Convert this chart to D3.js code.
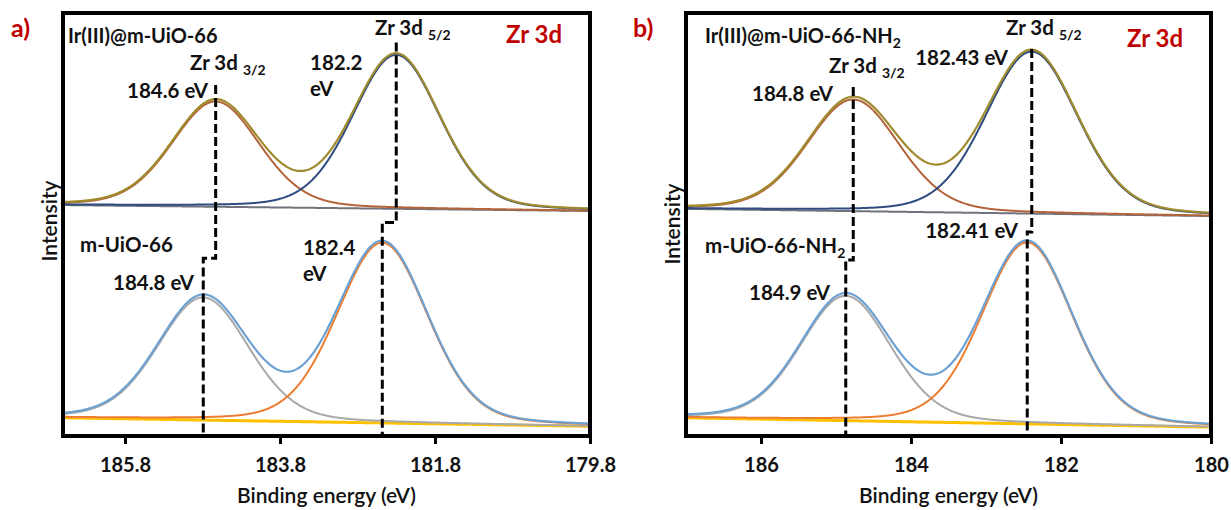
<!DOCTYPE html>
<html>
<head>
<meta charset="utf-8">
<script src="https://cdn.jsdelivr.net/npm/d3@7"></script>
<style>
  html, body { margin: 0; padding: 0; background: #fff; }
  svg { display: block; font-family: Lato, "Open Sans", sans-serif; }
</style>
</head>
<body>
<svg id="chart" width="1231" height="510"></svg>
<script>
// ---------------- DATA ----------------
// x-axis (binding energy, eV)
const energyDomainA = [186.6, 179.8];
const energyDomainB = [187, 180];
const tickValuesA = [185.8, 183.8, 181.8, 179.8];
const tickValuesB = [186, 184, 182, 180];
const tickLabelsA = ["185.8", "183.8", "181.8", "179.8"];
const tickLabelsB = ["186", "184", "182", "180"];

// fitted Zr 3d components: [3d3/2, 3d5/2]  (centre eV, height a.u., FWHM eV)
// panel a, Ir(III)@m-UiO-66
const centersA_top = [184.63, 182.30];
const heightsA_top = [24.9, 36.4];
const fwhmA_top = [1.33, 1.33];
const backgroundA_top = [54.6, 53.2];   // at left / right end of energy axis
// panel a, m-UiO-66
const centersA_bot = [184.79, 182.48];
const heightsA_bot = [29.0, 42.6];
const fwhmA_bot = [1.38, 1.38];
const backgroundA_bot = [4.3, 2.3];
// panel b, Ir(III)@m-UiO-66-NH2
const centersB_top = [184.77, 182.39];
const heightsB_top = [26.4, 38.3];
const fwhmB_top = [1.45, 1.45];
const backgroundB_top = [53.7, 52.0];
// panel b, m-UiO-66-NH2
const centersB_bot = [184.87, 182.45];
const heightsB_bot = [29.5, 42.9];
const fwhmB_bot = [1.42, 1.42];
const backgroundB_bot = [4.3, 2.1];
// Lorentzian fraction of the Gaussian-Lorentzian line shape
const lorentzFraction = 0.2;

// peak value labels
const peakLabelsA_top = ["184.6 eV", "182.2", "eV"];
const peakLabelsA_bot = ["184.8 eV", "182.4", "eV"];
const peakLabelsB_top = ["184.8 eV", "182.43 eV"];
const peakLabelsB_bot = ["184.9 eV", "182.41 eV"];

// ---------------- DRAWING ----------------
const svg = d3.select("#chart");
const intensityDomain = [0, 100];

const colTop = { env: "#A08A2E", c32: "#B4643A", c52: "#2E4C80", bg: "#6F737C" };
const colBot = { env: "#6DA1D2", c32: "#A9A9A9", c52: "#ED7D31", bg: "#FFC000" };

function glPeak(E, c, h, w) {
  const u = (E - c) / w;
  const g = Math.exp(-4 * Math.LN2 * u * u);
  const l = 1 / (1 + 4 * u * u);
  return h * ((1 - lorentzFraction) * g + lorentzFraction * l);
}

function drawSpectrum(g, x, y, dom, centers, heights, fwhm, bgEnds, col, bgWidth) {
  const lo = Math.min(dom[0], dom[1]), hi = Math.max(dom[0], dom[1]);
  const Es = d3.range(lo, hi + 1e-9, 0.01);
  const bg = E => bgEnds[0] + (bgEnds[1] - bgEnds[0]) * (E - dom[0]) / (dom[1] - dom[0]);
  const line = d3.line().x(d => x(d[0])).y(d => y(d[1])).curve(d3.curveLinear);
  const comp = i => Es.map(E => [E, bg(E) + glPeak(E, centers[i], heights[i], fwhm[i])]);
  const env = Es.map(E => [E, bg(E) + glPeak(E, centers[0], heights[0], fwhm[0]) + glPeak(E, centers[1], heights[1], fwhm[1])]);
  g.append("path").attr("d", line(Es.map(E => [E, bg(E)]))).attr("fill", "none")
    .attr("stroke", col.bg).attr("stroke-width", bgWidth);
  g.append("path").attr("d", line(comp(0))).attr("fill", "none").attr("stroke", col.c32).attr("stroke-width", 2);
  g.append("path").attr("d", line(comp(1))).attr("fill", "none").attr("stroke", col.c52).attr("stroke-width", 2);
  g.append("path").attr("d", line(env)).attr("fill", "none").attr("stroke", col.env).attr("stroke-width", 2.2);
}

function txt(g, x, y, s, opts = {}) {
  const t = g.append("text").attr("x", x).attr("y", y)
    .attr("font-size", opts.size || 20.5)
    .attr("font-weight", opts.weight || 700)
    .attr("fill", opts.fill || "#111")
    .attr("text-anchor", opts.anchor || "start");
  if (opts.parts) {
    opts.parts.forEach(p => {
      const ts = t.append("tspan").text(p.t);
      if (p.sub) ts.attr("font-size", p.size || 14).attr("dy", p.dy || 5);
    });
  } else t.text(s);
  return t;
}

function panel(cfg) {
  const x = d3.scaleLinear().domain(cfg.domain).range([cfg.left, cfg.right]);
  const y = d3.scaleLinear().domain(intensityDomain).range([cfg.bottom, cfg.top]);
  const g = svg.append("g");

  drawSpectrum(g, x, y, cfg.domain, cfg.top_.c, cfg.top_.h, cfg.top_.w, cfg.top_.bg, colTop, 2);
  drawSpectrum(g, x, y, cfg.domain, cfg.bot_.c, cfg.bot_.h, cfg.bot_.w, cfg.bot_.bg, colBot, 3);

  // dashed peak-position guides (upper peak -> step -> lower peak -> axis)
  cfg.guides.forEach(gd => {
    const pts = [[gd.eTop, gd.yTop], [gd.eTop, gd.yStep], [gd.eBot, gd.yStep], [gd.eBot, 0]];
    g.append("path").attr("d", d3.line().x(d => x(d[0])).y(d => y(d[1])).curve(d3.curveLinear)(pts))
      .attr("fill", "none").attr("stroke", "#000").attr("stroke-width", 3)
      .attr("stroke-dasharray", "9,4");
  });

  // frame
  g.append("rect").attr("x", cfg.left).attr("y", cfg.top)
    .attr("width", cfg.right - cfg.left).attr("height", cfg.bottom - cfg.top)
    .attr("fill", "none").attr("stroke", "#000").attr("stroke-width", 4);

  // x axis
  const ax = g.append("g").attr("transform", `translate(0,${cfg.bottom})`)
    .call(d3.axisBottom(x).tickValues(cfg.ticks).tickFormat((d, i) => cfg.tickLabels[i])
      .tickSize(8).tickPadding(14));
  ax.select(".domain").remove();
  ax.selectAll(".tick line").attr("stroke", "#000").attr("stroke-width", 3);
  ax.selectAll(".tick text").attr("font-size", 20).attr("font-weight", 700)
    .attr("fill", "#111").attr("font-family", "Lato, sans-serif");

  // axis titles
  txt(g, (cfg.left + cfg.right) / 2, 503, "Binding energy (eV)", { size: 21, weight: 600, anchor: "middle" });
  g.append("text").attr("transform", `translate(${cfg.left - 6},${cfg.ytitle}) rotate(-90)`)
    .attr("text-anchor", "middle").attr("font-size", 21).attr("font-weight", 600)
    .attr("fill", "#111").text("Intensity");
  return g;
}

// ---- panel a ----
const gA = panel({
  domain: energyDomainA, left: 63, right: 590, top: 13, bottom: 436,
  ticks: tickValuesA, tickLabels: tickLabelsA, ytitle: 221,
  top_: { c: centersA_top, h: heightsA_top, w: fwhmA_top, bg: backgroundA_top },
  bot_: { c: centersA_bot, h: heightsA_bot, w: fwhmA_bot, bg: backgroundA_bot },
  guides: [
    { eTop: centersA_top[0], yTop: 83, yStep: 42, eBot: centersA_bot[0] },
    { eTop: centersA_top[1], yTop: 93, yStep: 50.5, eBot: centersA_bot[1] }
  ]
});
txt(gA, 11, 37, "a)", { size: 25, fill: "#C00000" });
txt(gA, 68, 43, "Ir(III)@m-UiO-66", { size: 20 });
txt(gA, 190, 70, "", { parts: [{ t: "Zr 3d " }, { t: "3/2", sub: true }] });
txt(gA, 208, 98, peakLabelsA_top[0], { anchor: "end" });
txt(gA, 375, 35, "", { parts: [{ t: "Zr 3d " }, { t: "5/2", sub: true }] });
txt(gA, 506, 43, "Zr 3d", { size: 24, fill: "#C00000" });
txt(gA, 310, 70, peakLabelsA_top[1]);
txt(gA, 310, 96, peakLabelsA_top[2]);
txt(gA, 80, 252, "m-UiO-66");
txt(gA, 194, 290, peakLabelsA_bot[0], { anchor: "end" });
txt(gA, 303, 255, peakLabelsA_bot[1]);
txt(gA, 303, 281, peakLabelsA_bot[2]);

// ---- panel b ----
const gB = panel({
  domain: energyDomainB, left: 686, right: 1211, top: 13, bottom: 436,
  ticks: tickValuesB, tickLabels: tickLabelsB, ytitle: 224,
  top_: { c: centersB_top, h: heightsB_top, w: fwhmB_top, bg: backgroundB_top },
  bot_: { c: centersB_bot, h: heightsB_bot, w: fwhmB_bot, bg: backgroundB_bot },
  guides: [
    { eTop: centersB_top[0], yTop: 82.5, yStep: 41.6, eBot: centersB_bot[0] },
    { eTop: centersB_top[1], yTop: 91.5, yStep: 48.2, eBot: centersB_bot[1] }
  ]
});
txt(gB, 633, 37, "b)", { size: 25, fill: "#C00000" });
txt(gB, 705, 43, "", { size: 20, parts: [{ t: "Ir(III)@m-UiO-66-NH" }, { t: "2", sub: true }] });
txt(gB, 829, 73, "", { parts: [{ t: "Zr 3d " }, { t: "3/2", sub: true }] });
txt(gB, 833, 101, peakLabelsB_top[0], { anchor: "end" });
txt(gB, 1006, 35, "", { parts: [{ t: "Zr 3d " }, { t: "5/2", sub: true }] });
txt(gB, 1127, 47, "Zr 3d", { size: 24, fill: "#C00000" });
txt(gB, 1008, 65, peakLabelsB_top[1], { anchor: "end" });
txt(gB, 705, 253, "", { parts: [{ t: "m-UiO-66-NH" }, { t: "2", sub: true }] });
txt(gB, 830, 300, peakLabelsB_bot[0], { anchor: "end" });
txt(gB, 1018, 238, peakLabelsB_bot[1], { anchor: "end" });
</script>
</body>
</html>
